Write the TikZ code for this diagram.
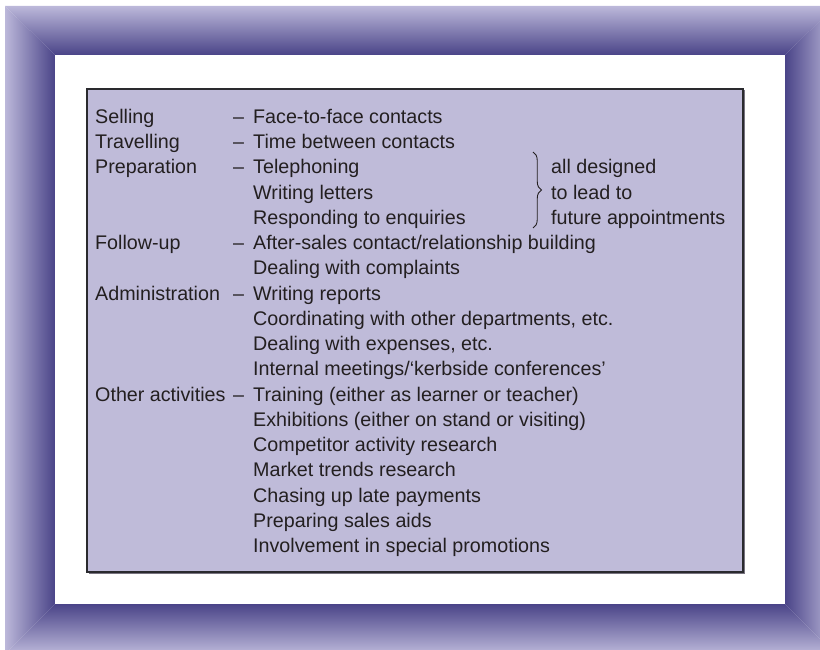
\documentclass[tikz,border=0pt]{standalone}
\usepackage{fontspec}
\setmainfont{Liberation Sans}
\usetikzlibrary{decorations.pathreplacing}
\definecolor{framedark}{HTML}{4A4488}
\definecolor{framelight}{HTML}{BCB8DA}
\definecolor{boxfill}{HTML}{BFBBD9}
\definecolor{txt}{HTML}{231F20}
\definecolor{boxedge}{HTML}{2A2A2E}
\definecolor{boxshadow}{HTML}{77737F}
\tikzset{
  lbl/.style={anchor=base west, inner sep=0pt, text=txt, font=\fontsize{19.7}{23}\selectfont},
  panel/.style={fill=white},
}
\begin{document}
\begin{tikzpicture}[x=1pt,y=-1pt]
\useasboundingbox (0,0) rectangle (820,650);
\begin{scope}
\clip (0,0) rectangle (820,650);
% bevelled frame
\shade[top color=framelight, bottom color=framedark] (5,6) -- (835,6) -- (785,55) -- (55,55) -- cycle;
\shade[left color=framelight, right color=framedark] (5,6) -- (55,55) -- (55,604) -- (5,654) -- cycle;
\shade[left color=framedark, right color=framelight] (835,6) -- (785,55) -- (785,604) -- (835,654) -- cycle;
\shade[top color=framedark, bottom color=framelight] (55,604) -- (785,604) -- (835,654) -- (5,654) -- cycle;
\end{scope}
% white panel
\fill[panel] (55,55) rectangle (785,604);
% lavender box with shadow
\fill[boxshadow] (88.5,90.5) rectangle (744.5,573.5);
\draw[boxedge, line width=1.3pt, fill=boxfill] (87,89) rectangle (743,572);

% left column
\node[lbl] (l0) at (95,123.4) {Selling};
\node[lbl] (l1) at (95,148.65) {Travelling};
\node[lbl] (l2) at (95,173.9) {Preparation};
\node[lbl] (l5) at (95,249.65) {Follow-up};
\node[lbl] (l7) at (95,300.15) {Administration};
\node[lbl] (l11) at (95,401.15) {Other activities};
% dashes
\node[lbl] (d0) at (233,123.4) {--};
\node[lbl] (d1) at (233,148.65) {--};
\node[lbl] (d2) at (233,173.9) {--};
\node[lbl] (d5) at (233,249.65) {--};
\node[lbl] (d7) at (233,300.15) {--};
\node[lbl] (d11) at (233,401.15) {--};
% right column
\node[lbl] (r0) at (253,123.4) {Face-to-face contacts};
\node[lbl] (r1) at (253,148.65) {Time between contacts};
\node[lbl] (r2) at (253,173.9) {Telephoning};
\node[lbl] (r3) at (253,199.15) {Writing letters};
\node[lbl] (r4) at (253,224.4) {Responding to enquiries};
\node[lbl] (r5) at (253,249.65) {After-sales contact/relationship building};
\node[lbl] (r6) at (253,274.9) {Dealing with complaints};
\node[lbl] (r7) at (253,300.15) {Writing reports};
\node[lbl] (r8) at (253,325.4) {Coordinating with other departments, etc.};
\node[lbl] (r9) at (253,350.65) {Dealing with expenses, etc.};
\node[lbl] (r10) at (253,375.9) {Internal meetings/‘kerbside conferences’};
\node[lbl] (r11) at (253,401.15) {Training (either as learner or teacher)};
\node[lbl] (r12) at (253,426.4) {Exhibitions (either on stand or visiting)};
\node[lbl] (r13) at (253,451.65) {Competitor activity research};
\node[lbl] (r14) at (253,476.9) {Market trends research};
\node[lbl] (r15) at (253,502.15) {Chasing up late payments};
\node[lbl] (r16) at (253,527.4) {Preparing sales aids};
\node[lbl] (r17) at (253,552.65) {Involvement in special promotions};
% brace and its note
\coordinate (bt) at (533,152);
\coordinate (bb) at (533,228);
\draw[txt, line width=0.9pt, decorate, decoration={brace, amplitude=8.5pt}] (bt) -- (bb);
\node[lbl] (n1) at (551,173.9) {all designed};
\node[lbl] (n2) at (551,199.15) {to lead to};
\node[lbl] (n3) at (551,224.4) {future appointments};
\end{tikzpicture}
\end{document}
